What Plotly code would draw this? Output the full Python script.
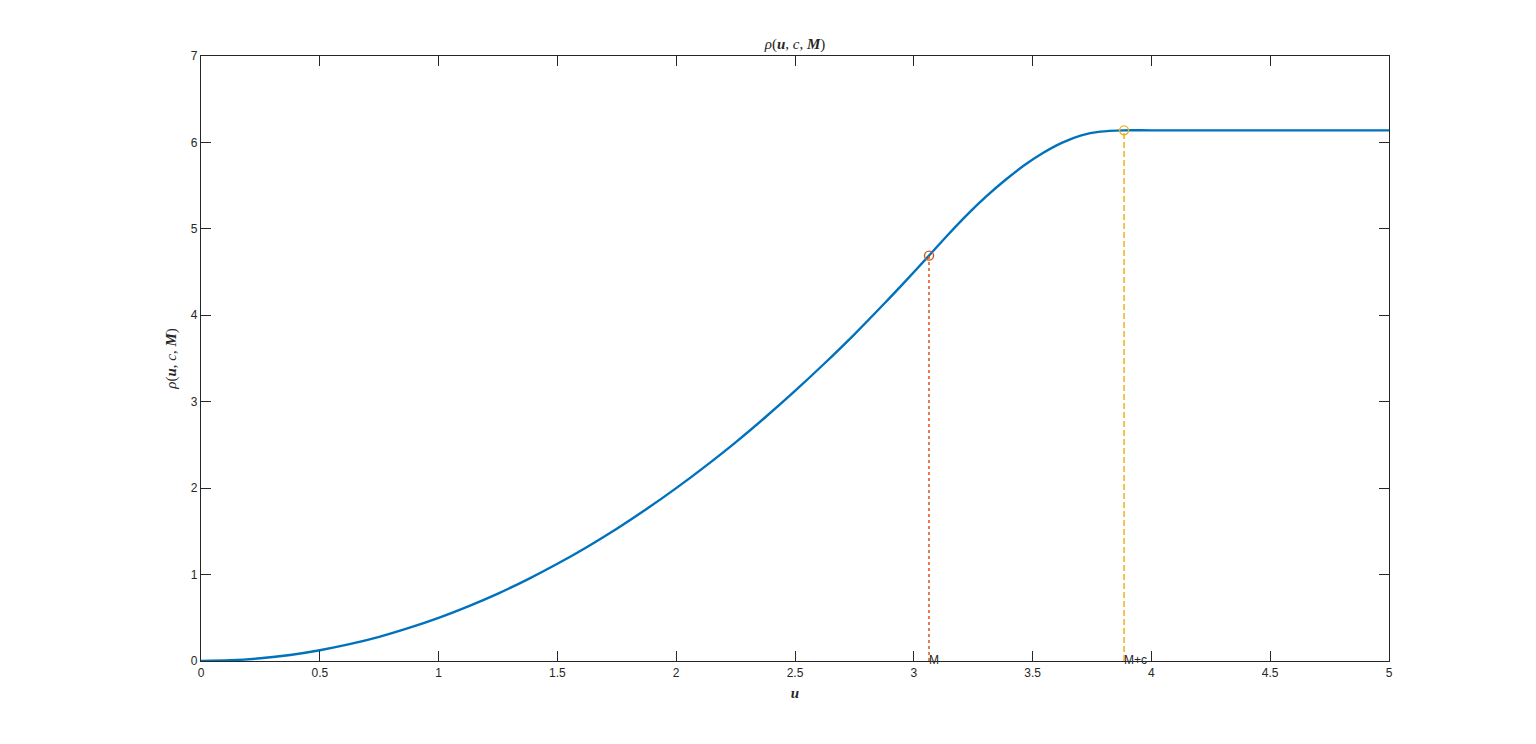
import plotly.graph_objects as go

# curve
u_vals = [0, 0.125, 0.25, 0.375, 0.5, 0.625, 0.75, 0.875, 1.0, 1.125, 1.25, 1.375, 1.5,
          1.625, 1.75, 1.875, 2.0, 2.125, 2.25, 2.375, 2.5, 2.625, 2.75, 2.875, 2.97,
          3.064, 3.145, 3.225, 3.305, 3.385, 3.465, 3.545, 3.625, 3.705, 3.785,
          3.885, 4.0, 4.5, 5.0]
rho_vals = [0, 0.008, 0.031, 0.07, 0.125, 0.195, 0.28, 0.383, 0.5, 0.633, 0.78, 0.945, 1.125,
            1.32, 1.53, 1.758, 2.0, 2.258, 2.53, 2.82, 3.125, 3.445, 3.78, 4.133, 4.41,
            4.69, 4.935, 5.165, 5.375, 5.565, 5.735, 5.88, 5.998, 6.082, 6.125,
            6.14, 6.14, 6.14, 6.14]

# marked points
M = 3.064
rho_M = 4.69
Mc = 3.885
rho_Mc = 6.14

x_ticks = [0, 0.5, 1, 1.5, 2, 2.5, 3, 3.5, 4, 4.5, 5]
y_ticks = [0, 1, 2, 3, 4, 5, 6, 7]

blue = "#0072BD"
orange = "#D95319"
yellow = "#EDB120"
axcol = "#262626"

fig = go.Figure()

fig.add_trace(go.Scatter(x=u_vals, y=rho_vals, mode="lines",
                         line=dict(color=blue, width=2.4, shape="spline", smoothing=0.9),
                         showlegend=False, hoverinfo="skip"))

fig.add_trace(go.Scatter(x=[M, M], y=[0, rho_M], mode="lines",
                         line=dict(color=orange, width=1.5, dash="3px,3px"),
                         showlegend=False))
fig.add_trace(go.Scatter(x=[Mc, Mc], y=[0, rho_Mc], mode="lines",
                         line=dict(color=yellow, width=1.5, dash="6px,3px"),
                         showlegend=False))

fig.add_trace(go.Scatter(x=[M], y=[rho_M], mode="markers",
                         marker=dict(symbol="circle-open", size=9, color=orange, line=dict(width=1.4)),
                         showlegend=False))
fig.add_trace(go.Scatter(x=[Mc], y=[rho_Mc], mode="markers",
                         marker=dict(symbol="circle-open", size=9, color=yellow, line=dict(width=1.4)),
                         showlegend=False))

fig.add_trace(go.Scatter(x=[M, Mc], y=[0, 0], mode="text", text=["M", "M+c"],
                         textposition="middle right",
                         textfont=dict(family="Liberation Sans, Arial", size=12, color=axcol),
                         showlegend=False, cliponaxis=False))

axis_common = dict(showline=True, linecolor=axcol, linewidth=1.2, mirror="ticks",
                   ticks="inside", ticklen=10, tickcolor=axcol, tickwidth=1.2,
                   showgrid=False, zeroline=False,
                   tickfont=dict(family="Liberation Sans, Arial", size=12, color=axcol))

fig.update_xaxes(range=[0, 5], tickvals=x_ticks, ticktext=[str(t) for t in x_ticks],
                 title=dict(text="<b><i>u</i></b>", standoff=8,
                            font=dict(family="Liberation Serif, Times New Roman", size=15, color=axcol)),
                 **axis_common)
fig.update_yaxes(range=[0, 7], tickvals=y_ticks,
                 title=dict(text="<i>ρ</i>(<b><i>u</i></b>, <i>c</i>, <b><i>M</i></b>)", standoff=10,
                            font=dict(family="Liberation Serif, Times New Roman", size=15, color=axcol)),
                 **axis_common)

fig.update_layout(
    title=dict(text="<i>ρ</i>(<b><i>u</i></b>, <i>c</i>, <b><i>M</i></b>)",
               x=(795 - 8) / 1520, xanchor="center", y=1 - (44 - 8) / 728, yanchor="middle",
               font=dict(family="Liberation Serif, Times New Roman", size=15, color=axcol)),
    paper_bgcolor="white", plot_bgcolor="white",
    margin=dict(l=193, r=139, t=48, b=75),
    autosize=True,
)

fig.write_html("out.html")
